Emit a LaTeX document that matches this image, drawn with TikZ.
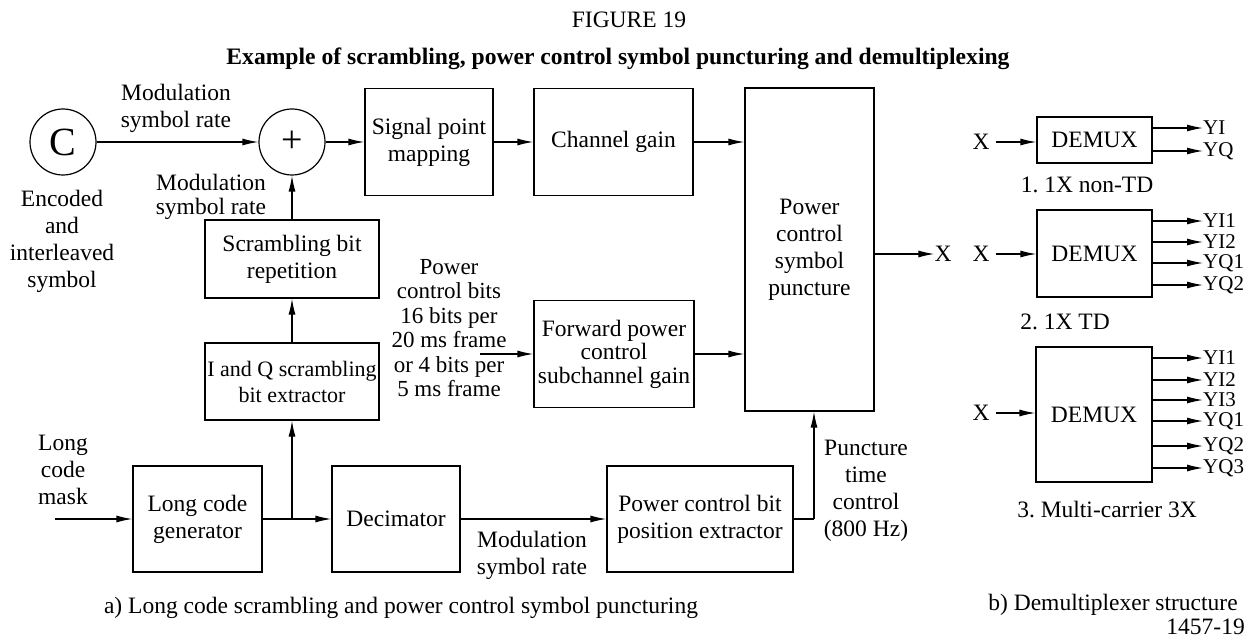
\documentclass[tikz,border=0pt]{standalone}
\usepackage{fontspec}
\setmainfont{Liberation Serif}
\usetikzlibrary{arrows.meta,calc}
\frenchspacing
\tikzset{
  base/.style={font=\fontsize{23.5}{27}\selectfont, align=center, inner sep=1pt},
  blk/.style={base, draw, line width=1.2pt, inner sep=0pt},
  arr/.style={line width=1.2pt, -{Latex[length=16pt,width=7pt]}},
  ln/.style={line width=1.2pt},
  lbl/.style={base},
  outl/.style={base, font=\fontsize{21}{21}\selectfont, anchor=west, inner sep=0pt},
}
\begin{document}
\begin{tikzpicture}[x=1pt,y=-1pt]
\useasboundingbox (0,0) rectangle (1258,639);
% titles
\node[lbl] (fig) at (629,20) {FIGURE 19};
\node[lbl, font=\fontsize{23.6}{27}\selectfont\bfseries] (title) at (618,59) {Example of scrambling, power control symbol puncturing and demultiplexing};
% circles
\node[draw, circle, line width=1.2pt, minimum size=66, inner sep=0, font=\fontsize{40}{40}\selectfont] (c) at (63,142) {C};
\node[draw, circle, line width=1.2pt, minimum size=66, inner sep=0, font=\fontsize{38}{38}\selectfont] (plus) at (292,142) {+};
\node[lbl] (enc) at (62,241) {Encoded\\and\\interleaved\\symbol};
\node[lbl] (mod1) at (176,108) {Modulation\\symbol rate};
\node[lbl, font=\fontsize{23.5}{24}\selectfont] (mod2) at (211,197) {Modulation\\symbol rate};
% blocks
\node[blk, minimum width=128, minimum height=107] (spm) at (429,142) {Signal point\\mapping};
\node[blk, minimum width=159, minimum height=107] (cg) at (613.5,142) {Channel gain};
\node[blk, minimum width=129, minimum height=323] (pcsp) at (809.5,249.5) {Power\\control\\symbol\\puncture};
\node[blk, minimum width=174, minimum height=78] (sbr) at (292,259) {Scrambling bit\\repetition};
\node[blk, minimum width=174, minimum height=77, font=\fontsize{22}{26}\selectfont] (iq) at (292,381.5) {I and Q scrambling\\bit extractor};
\node[blk, minimum width=160, minimum height=107, font=\fontsize{23.5}{23.5}\selectfont] (fp) at (614,354) {Forward power\\control\\subchannel gain};
\node[blk, minimum width=129, minimum height=106] (lcg) at (197.5,519) {Long code\\generator};
\node[blk, minimum width=128, minimum height=106] (dec) at (396,519) {Decimator};
\node[blk, minimum width=186, minimum height=106] (pcb) at (700,519) {Power control bit\\position extractor};
% text labels
\node[lbl, font=\fontsize{23}{24.5}\selectfont] (pcbits) at (449,328) {Power\\control bits\\16 bits per\\20 ms frame\\or 4 bits per\\5 ms frame};
\node[lbl] (mask) at (63,470) {Long\\code\\mask};
\node[lbl] (ptc) at (866,491) {Puncture\\time\\control\\(800 Hz)};
\node[lbl] (mod3) at (532,555) {Modulation\\symbol rate};
% connectors
\coordinate (maskin) at (55,519);
\coordinate (br) at (292,519);
\coordinate (turn) at (814,519);
\coordinate (pcin) at (480,354);
\draw[arr] (c) -- (plus);
\draw[arr] (plus) -- (spm);
\draw[arr] (spm) -- (cg);
\draw[arr] (cg.east) -- (pcsp.west |- cg.east);
\draw[arr] (sbr) -- (plus);
\draw[arr] (iq) -- (sbr);
\draw[arr] (maskin) -- (lcg.west);
\draw[arr] (lcg.east) -- (dec.west);
\draw[arr] (br) -- (iq.south);
\draw[arr] (dec.east) -- (pcb.west);
\draw[ln] (pcb.east) -- (turn);
\draw[arr] (turn) -- (turn |- pcsp.south);
\draw[arr] (pcin) -- (fp.west);
\draw[arr] (fp.east) -- (pcsp.west |- fp.east);
\node[lbl, inner sep=0pt] (xout) at (943,254) {X};
\draw[arr] (pcsp.east |- xout) -- (xout.west);
% demux 1
\node[blk, minimum width=115, minimum height=46] (dm1) at (1094.5,140) {DEMUX};
\node[lbl, inner sep=0pt] (x1) at (981,142) {X};
\draw[arr] (x1.east) ++(6,0) -- (dm1.west |- x1);
\node[outl] (yi) at (1203,128) {YI};
\node[outl] (yq) at (1203,151) {YQ};
\foreach \n in {yi,yq} \draw[arr] (dm1.east |- \n.west) -- (\n.west);
\node[lbl] (cap1) at (1087,185) {1. 1X non-TD};
% demux 2
\node[blk, minimum width=115, minimum height=87] (dm2) at (1094.5,253.5) {DEMUX};
\node[lbl, inner sep=0pt] (x2) at (981,254) {X};
\draw[arr] (x2.east) ++(6,0) -- (dm2.west |- x2);
\node[outl] (a1) at (1203,221) {YI1};
\node[outl] (a2) at (1203,242) {YI2};
\node[outl] (a3) at (1203,263) {YQ1};
\node[outl] (a4) at (1203,285) {YQ2};
\foreach \n in {a1,a2,a3,a4} \draw[arr] (dm2.east |- \n.west) -- (\n.west);
\node[lbl] (cap2) at (1065,322) {2. 1X TD};
% demux 3
\node[blk, minimum width=116, minimum height=135] (dm3) at (1094,414.5) {DEMUX};
\node[lbl, inner sep=0pt] (x3) at (981,413) {X};
\draw[arr] (x3.east) ++(6,0) -- (dm3.west |- x3);
\node[outl] (b1) at (1203,358) {YI1};
\node[outl] (b2) at (1203,380) {YI2};
\node[outl] (b3) at (1203,400) {YI3};
\node[outl] (b4) at (1203,421) {YQ1};
\node[outl] (b5) at (1203,446) {YQ2};
\node[outl] (b6) at (1203,468) {YQ3};
\foreach \n in {b1,b2,b3,b4,b5,b6} \draw[arr] (dm3.east |- \n.west) -- (\n.west);
\node[lbl] (cap3) at (1107,510) {3. Multi-carrier 3X};
% captions
\node[lbl] (capa) at (401,608) {a) Long code scrambling and power control symbol puncturing};
\node[lbl, inner sep=0pt] (capb) at (1113,605) {b) Demultiplexer structure};
\node[lbl, anchor=east, inner sep=0pt] (num) at (1245,627) {1457-19};
\end{tikzpicture}
\end{document}
